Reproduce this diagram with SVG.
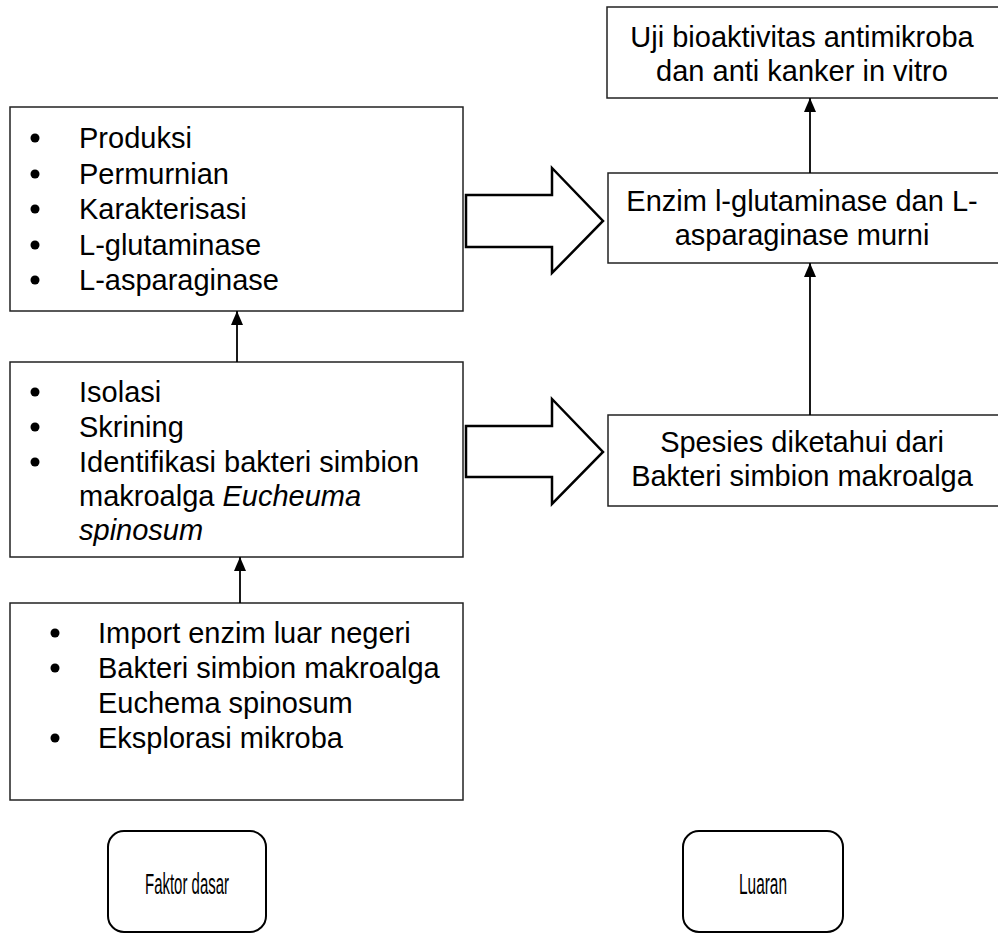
<svg xmlns="http://www.w3.org/2000/svg" width="998" height="934" viewBox="0 0 998 934">
  <defs>
    <marker id="tri" viewBox="0 0 14 12" refX="14" refY="6" markerWidth="14" markerHeight="12" markerUnits="userSpaceOnUse" orient="auto">
      <path d="M0,0 L14,6 L0,12 Z" fill="#000"/>
    </marker>
    <style>
      .box { fill: #fff; stroke: #222; stroke-width: 1.5; }
      .rbox { fill: #fff; stroke: #000; stroke-width: 2; }
      .txt { font-family: "Liberation Sans", Arial, sans-serif; font-size: 29px; fill: #000; }
      .ctr { text-anchor: middle; }
      .it { font-style: italic; }
      .dot { fill: #000; }
      .link { fill: none; stroke: #000; stroke-width: 1.8; }
      .big { fill: #fff; stroke: #000; stroke-width: 2.5; stroke-linejoin: miter; }
      .lbl { font-family: "Liberation Sans", Arial, sans-serif; font-size: 29px; fill: #000; text-anchor: middle; }
    </style>
  </defs>
  <rect width="998" height="934" fill="#fff"/>

  <!-- processing steps -->
  <g id="step-produksi">
    <rect class="box" x="10" y="107" width="453" height="204"/>
    <circle class="dot" cx="35" cy="138" r="4.5"/>
    <circle class="dot" cx="35" cy="174" r="4.5"/>
    <circle class="dot" cx="35" cy="209" r="4.5"/>
    <circle class="dot" cx="35" cy="245" r="4.5"/>
    <circle class="dot" cx="35" cy="280" r="4.5"/>
    <text class="txt" x="79" y="148">Produksi</text>
    <text class="txt" x="79" y="184">Permurnian</text>
    <text class="txt" x="79" y="219">Karakterisasi</text>
    <text class="txt" x="79" y="255">L-glutaminase</text>
    <text class="txt" x="79" y="290">L-asparaginase</text>
  </g>

  <g id="step-isolasi">
    <rect class="box" x="10" y="362" width="453" height="195"/>
    <circle class="dot" cx="35" cy="392" r="4.5"/>
    <circle class="dot" cx="35" cy="427" r="4.5"/>
    <circle class="dot" cx="35" cy="462" r="4.5"/>
    <text class="txt" x="79" y="402">Isolasi</text>
    <text class="txt" x="79" y="437">Skrining</text>
    <text class="txt" x="79" y="472">Identifikasi bakteri simbion</text>
    <text class="txt" x="79" y="506">makroalga <tspan class="it">Eucheuma</tspan></text>
    <text class="txt it" x="79" y="540">spinosum</text>
  </g>

  <g id="faktor-awal">
    <rect class="box" x="10" y="603" width="453" height="197"/>
    <circle class="dot" cx="55" cy="633" r="4.5"/>
    <circle class="dot" cx="55" cy="668" r="4.5"/>
    <circle class="dot" cx="55" cy="738" r="4.5"/>
    <text class="txt" x="98" y="643">Import enzim luar negeri</text>
    <text class="txt" x="98" y="678">Bakteri simbion makroalga</text>
    <text class="txt" x="98" y="713">Euchema spinosum</text>
    <text class="txt" x="98" y="748">Eksplorasi mikroba</text>
  </g>

  <!-- outputs -->
  <g id="uji-bioaktivitas">
    <rect class="box" x="607" y="7" width="400" height="91"/>
    <text class="txt ctr" x="802" y="47">Uji bioaktivitas antimikroba</text>
    <text class="txt ctr" x="802" y="81">dan anti kanker in vitro</text>
  </g>

  <g id="enzim-murni">
    <rect class="box" x="608" y="173" width="400" height="90"/>
    <text class="txt ctr" x="802" y="211">Enzim l-glutaminase dan L-</text>
    <text class="txt ctr" x="802" y="245">asparaginase murni</text>
  </g>

  <g id="spesies">
    <rect class="box" x="608" y="415" width="400" height="91"/>
    <text class="txt ctr" x="802" y="452">Spesies diketahui dari</text>
    <text class="txt ctr" x="802" y="486">Bakteri simbion makroalga</text>
  </g>

  <!-- legend -->
  <g id="faktor-dasar">
    <rect class="rbox" x="108" y="831" width="158" height="101" rx="16" ry="16"/>
    <text class="lbl" x="187" y="894" textLength="84" lengthAdjust="spacingAndGlyphs">Faktor dasar</text>
  </g>

  <g id="luaran">
    <rect class="rbox" x="683" y="831" width="160" height="101" rx="16" ry="16"/>
    <text class="lbl" x="763" y="894" textLength="48" lengthAdjust="spacingAndGlyphs">Luaran</text>
  </g>

  <!-- connectors -->
  <g id="connectors">
    <line class="link" x1="240" y1="603" x2="240" y2="557" marker-end="url(#tri)"/>
    <line class="link" x1="237" y1="362" x2="237" y2="311" marker-end="url(#tri)"/>
    <line class="link" x1="810" y1="415" x2="810" y2="263" marker-end="url(#tri)"/>
    <line class="link" x1="810" y1="173" x2="810" y2="98" marker-end="url(#tri)"/>
    <path class="big" d="M466,195 L552,195 L552,168 L603,221 L552,273 L552,247 L466,247 Z"/>
    <path class="big" d="M466,426 L552,426 L552,399 L603,452 L552,504 L552,477 L466,477 Z"/>
  </g>
</svg>
